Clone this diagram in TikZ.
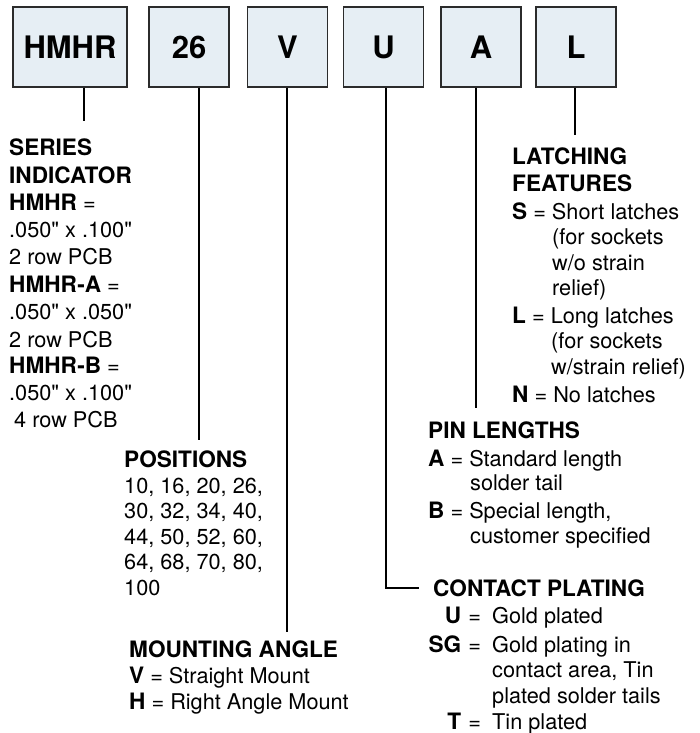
\documentclass[tikz,border=0pt]{standalone}
\usepackage{fontspec}
\setmainfont{TeX Gyre Heros}[Ligatures=TeXOff]
\definecolor{boxfill}{HTML}{E6EEF4}
\definecolor{boxline}{HTML}{2B2B2B}
\newcommand{\hb}{\fontsize{22.6}{26}\selectfont\bfseries}
\newcommand{\cpkey}[1]{\makebox[28pt][r]{\hb #1}\makebox[27pt][c]{=}\hspace{4pt}}
\begin{document}
\begin{tikzpicture}[x=1pt,y=-1pt,
  codebox/.style={draw=boxline, line width=1.3pt, fill=boxfill, minimum height=80pt,
    minimum width=80pt, inner sep=0pt, font=\fontsize{31}{31}\selectfont\bfseries},
  lead/.style={line width=2pt, draw=black},
  txt/.style={anchor=base west, inner sep=0pt, font=\fontsize{21.7}{26}\selectfont}]
\useasboundingbox (0,0) rectangle (699,733);
% code boxes
\node[codebox, minimum width=114pt] (bHMHR) at (70,47) {HMHR};
\node[codebox] (b26) at (189,47) {26};
\node[codebox] (bV) at (287.5,47) {V};
\node[codebox] (bU) at (383.5,47) {U};
\node[codebox] (bA) at (481,47) {A};
\node[codebox] (bL) at (576,47) {L};
% leader ends
\coordinate (eS) at (84,121);
\coordinate (eP) at (199,440);
\coordinate (eM) at (287,632);
\coordinate (cU) at (386,588);
\coordinate (eC) at (419,588);
\coordinate (eA) at (476,408);
\coordinate (eL) at (575,135);
\draw[lead] (eS |- bHMHR.south) -- (eS);
\draw[lead] (eP |- b26.south) -- (eP);
\draw[lead] (eM |- bV.south) -- (eM);
\draw[lead] (cU |- bU.south) -- (cU) -- (eC);
\draw[lead] (eA |- bA.south) -- (eA);
\draw[lead] (eL |- bL.south) -- (eL);
% series indicator
\node[txt] (s1) at (9,155) {\hb SERIES};
\node[txt] (s2) at (9,183) {\hb INDICATOR};
\node[txt] (s3) at (9,210) {{\hb HMHR} =};
\node[txt] (s4) at (9,237) {.050" x .100"};
\node[txt] (s5) at (9,264) {2 row PCB};
\node[txt] (s6) at (9,292) {{\hb HMHR-A} =};
\node[txt] (s7) at (9,319) {.050" x .050"};
\node[txt] (s8) at (9,347) {2 row PCB};
\node[txt] (s9) at (9,373) {{\hb HMHR-B} =};
\node[txt] (s10) at (9,400) {.050" x .100"};
\node[txt] (s11) at (14,427) {4 row PCB};
% positions
\node[txt] (p1) at (124,467) {\hb POSITIONS};
\node[txt] (p2) at (124,493) {10, 16, 20, 26,};
\node[txt] (p3) at (124,518) {30, 32, 34, 40,};
\node[txt] (p4) at (124,544) {44, 50, 52, 60,};
\node[txt] (p5) at (124,569) {64, 68, 70, 80,};
\node[txt] (p6) at (124,595) {100};
% mounting angle
\node[txt] (m1) at (129,657) {\hb MOUNTING ANGLE};
\node[txt] (m2) at (129,683) {{\hb V} = Straight Mount};
\node[txt] (m3) at (129,709) {{\hb H} = Right Angle Mount};
% latching features
\node[txt] (l1) at (512,164) {\hb LATCHING};
\node[txt] (l2) at (512,191) {\hb FEATURES};
\node[txt] (l3) at (512,219) {{\hb S} = Short latches};
\node[txt] (l4) at (552,244) {(for sockets};
\node[txt] (l5) at (552,270) {w/o strain};
\node[txt] (l6) at (552,295) {relief)};
\node[txt] (l7) at (512,323) {{\hb L} = Long latches};
\node[txt] (l8) at (551,348) {(for sockets};
\node[txt] (l9) at (551,374) {w/strain relief)};
\node[txt] (l10) at (512,402) {{\hb N} = No latches};
% pin lengths
\node[txt] (n1) at (428,438) {\hb PIN LENGTHS};
\node[txt] (n2) at (428,466) {{\hb A} = Standard length};
\node[txt] (n3) at (470,490) {solder tail};
\node[txt] (n4) at (428,518) {{\hb B} = Special length,};
\node[txt] (n5) at (470,543) {customer specified};
% contact plating
\node[txt] (c1) at (433,596) {\hb CONTACT PLATING};
\node[txt] (c2) at (433,623) {\cpkey{U}Gold plated};
\node[txt] (c3) at (433,652) {\cpkey{SG}Gold plating in};
\node[txt] (c4) at (492,677) {contact area, Tin};
\node[txt] (c5) at (492,703) {plated solder tails};
\node[txt] (c6) at (433,729) {\cpkey{T}Tin plated};
\end{tikzpicture}
\end{document}
